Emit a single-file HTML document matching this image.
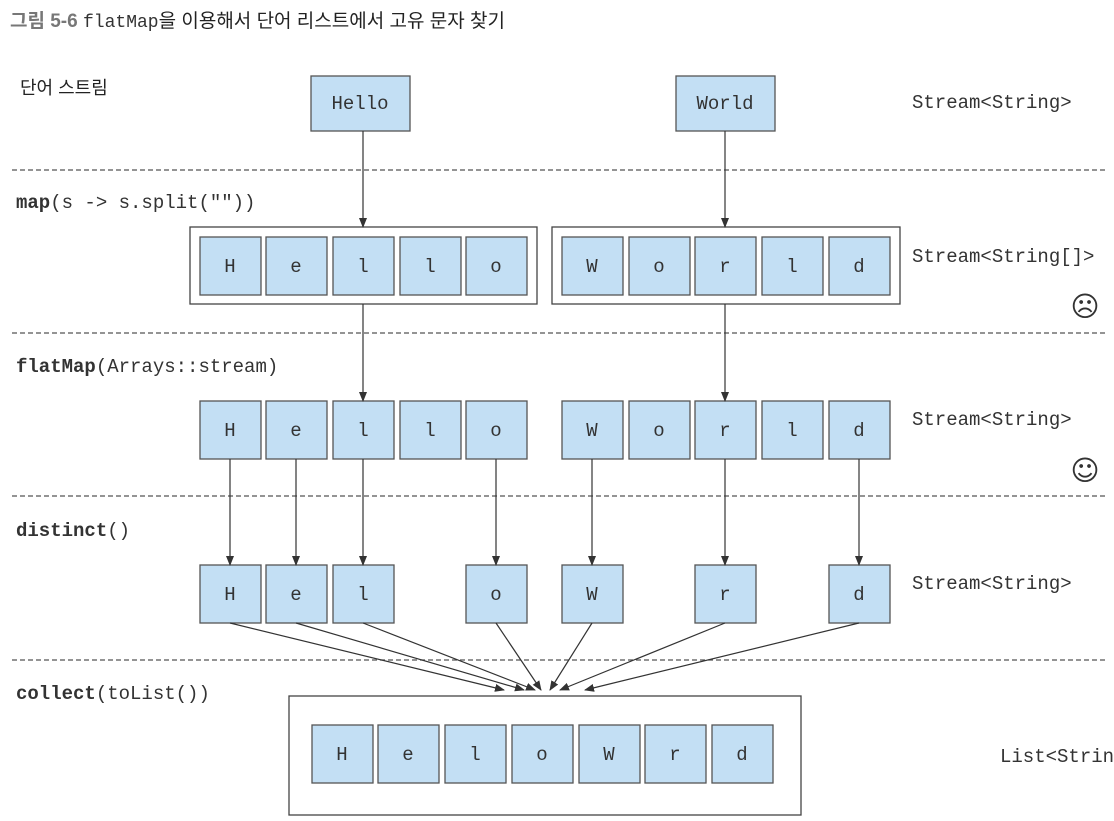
<!DOCTYPE html>
<html><head><meta charset="utf-8"><style>
html,body{margin:0;padding:0;background:#fff;}
svg{display:block}
.m{font-family:"Liberation Mono","DejaVu Sans Mono",monospace;font-size:19px;fill:#333}
.k{font-family:"Liberation Sans","Noto Sans CJK KR",sans-serif;fill:#222}
</style></head><body>
<svg width="1114" height="821" viewBox="0 0 1114 821" xmlns="http://www.w3.org/2000/svg">
<defs><marker id="a" markerWidth="10" markerHeight="8" refX="9" refY="4" orient="auto" markerUnits="userSpaceOnUse"><path d="M0,0 L10,4 L0,8 z" fill="#333"/></marker></defs>
<text x="10" y="27" class="k" font-size="19"><tspan font-weight="bold" fill="#777">그림 5-6</tspan> <tspan class="m" style="font-size:18px">flatMap</tspan>을 이용해서 단어 리스트에서 고유 문자 찾기</text>
<text x="20" y="94" class="k" font-size="18">단어 스트림</text>
<g stroke="#555" stroke-dasharray="5,3" stroke-width="1.3">
<line x1="12" y1="170" x2="1106" y2="170"/><line x1="12" y1="333" x2="1106" y2="333"/><line x1="12" y1="496" x2="1106" y2="496"/><line x1="12" y1="660" x2="1106" y2="660"/></g>
<g class="m">
<text x="16" y="208"><tspan font-weight="bold">map</tspan>(s -&gt; s.split(""))</text>
<text x="16" y="372"><tspan font-weight="bold">flatMap</tspan>(Arrays::stream)</text>
<text x="16" y="536"><tspan font-weight="bold">distinct</tspan>()</text>
<text x="16" y="699"><tspan font-weight="bold">collect</tspan>(toList())</text>
<text x="912" y="108">Stream&lt;String&gt;</text>
<text x="912" y="262">Stream&lt;String[]&gt;</text>
<text x="912" y="425">Stream&lt;String&gt;</text>
<text x="912" y="589">Stream&lt;String&gt;</text>
<text x="1000" y="762">List&lt;String&gt;</text>
</g>
<text x="1085" y="316" font-size="28" text-anchor="middle" fill="#333" font-family="DejaVu Sans,sans-serif">☹</text>
<text x="1085" y="480" font-size="28" text-anchor="middle" fill="#333" font-family="DejaVu Sans,sans-serif">☺</text>
<g fill="none" stroke="#444" stroke-width="1.3">
<rect x="190" y="227" width="347" height="77"/><rect x="552" y="227" width="348" height="77"/>
<rect x="289" y="696" width="512" height="119"/></g>
<g fill="#c3dff4" stroke="#555" stroke-width="1.3">
<rect x="311" y="76" width="99" height="55"/><rect x="676" y="76" width="99" height="55"/>
</g>
<text x="360" y="109" class="m" text-anchor="middle">Hello</text>
<text x="725" y="109" class="m" text-anchor="middle">World</text>
<g id="boxes"></g>
<g fill="#c3dff4" stroke="#555" stroke-width="1.3">
<!-- row2 -->
<rect x="200" y="237" width="61" height="58"/><rect x="266" y="237" width="61" height="58"/><rect x="333" y="237" width="61" height="58"/><rect x="400" y="237" width="61" height="58"/><rect x="466" y="237" width="61" height="58"/>
<rect x="562" y="237" width="61" height="58"/><rect x="629" y="237" width="61" height="58"/><rect x="695" y="237" width="61" height="58"/><rect x="762" y="237" width="61" height="58"/><rect x="829" y="237" width="61" height="58"/>
<!-- row3 -->
<rect x="200" y="401" width="61" height="58"/><rect x="266" y="401" width="61" height="58"/><rect x="333" y="401" width="61" height="58"/><rect x="400" y="401" width="61" height="58"/><rect x="466" y="401" width="61" height="58"/>
<rect x="562" y="401" width="61" height="58"/><rect x="629" y="401" width="61" height="58"/><rect x="695" y="401" width="61" height="58"/><rect x="762" y="401" width="61" height="58"/><rect x="829" y="401" width="61" height="58"/>
<!-- row4 -->
<rect x="200" y="565" width="61" height="58"/><rect x="266" y="565" width="61" height="58"/><rect x="333" y="565" width="61" height="58"/><rect x="466" y="565" width="61" height="58"/><rect x="562" y="565" width="61" height="58"/><rect x="695" y="565" width="61" height="58"/><rect x="829" y="565" width="61" height="58"/>
<!-- row5 -->
<rect x="312" y="725" width="61" height="58"/><rect x="378" y="725" width="61" height="58"/><rect x="445" y="725" width="61" height="58"/><rect x="512" y="725" width="61" height="58"/><rect x="579" y="725" width="61" height="58"/><rect x="645" y="725" width="61" height="58"/><rect x="712" y="725" width="61" height="58"/>
</g>
<g class="m" text-anchor="middle">
<text x="230" y="272">H</text><text x="296" y="272">e</text><text x="363" y="272">l</text><text x="430" y="272">l</text><text x="496" y="272">o</text>
<text x="592" y="272">W</text><text x="659" y="272">o</text><text x="725" y="272">r</text><text x="792" y="272">l</text><text x="859" y="272">d</text>
<text x="230" y="436">H</text><text x="296" y="436">e</text><text x="363" y="436">l</text><text x="430" y="436">l</text><text x="496" y="436">o</text>
<text x="592" y="436">W</text><text x="659" y="436">o</text><text x="725" y="436">r</text><text x="792" y="436">l</text><text x="859" y="436">d</text>
<text x="230" y="600">H</text><text x="296" y="600">e</text><text x="363" y="600">l</text><text x="496" y="600">o</text><text x="592" y="600">W</text><text x="725" y="600">r</text><text x="859" y="600">d</text>
<text x="342" y="760">H</text><text x="408" y="760">e</text><text x="475" y="760">l</text><text x="542" y="760">o</text><text x="609" y="760">W</text><text x="675" y="760">r</text><text x="742" y="760">d</text>
</g>
<g stroke="#333" stroke-width="1.2" marker-end="url(#a)">
<line x1="363" y1="131" x2="363" y2="227"/><line x1="725" y1="131" x2="725" y2="227"/>
<line x1="363" y1="304" x2="363" y2="401"/><line x1="725" y1="304" x2="725" y2="401"/>
<line x1="230" y1="459" x2="230" y2="565"/><line x1="296" y1="459" x2="296" y2="565"/><line x1="363" y1="459" x2="363" y2="565"/><line x1="496" y1="459" x2="496" y2="565"/><line x1="592" y1="459" x2="592" y2="565"/><line x1="725" y1="459" x2="725" y2="565"/><line x1="859" y1="459" x2="859" y2="565"/>
<line x1="230" y1="623" x2="504" y2="690"/><line x1="296" y1="623" x2="524" y2="690"/><line x1="363" y1="623" x2="535" y2="690"/><line x1="496" y1="623" x2="541" y2="690"/><line x1="592" y1="623" x2="550" y2="690"/><line x1="725" y1="623" x2="560" y2="690"/><line x1="859" y1="623" x2="585" y2="690"/>
</g>
</svg>
</body></html>
